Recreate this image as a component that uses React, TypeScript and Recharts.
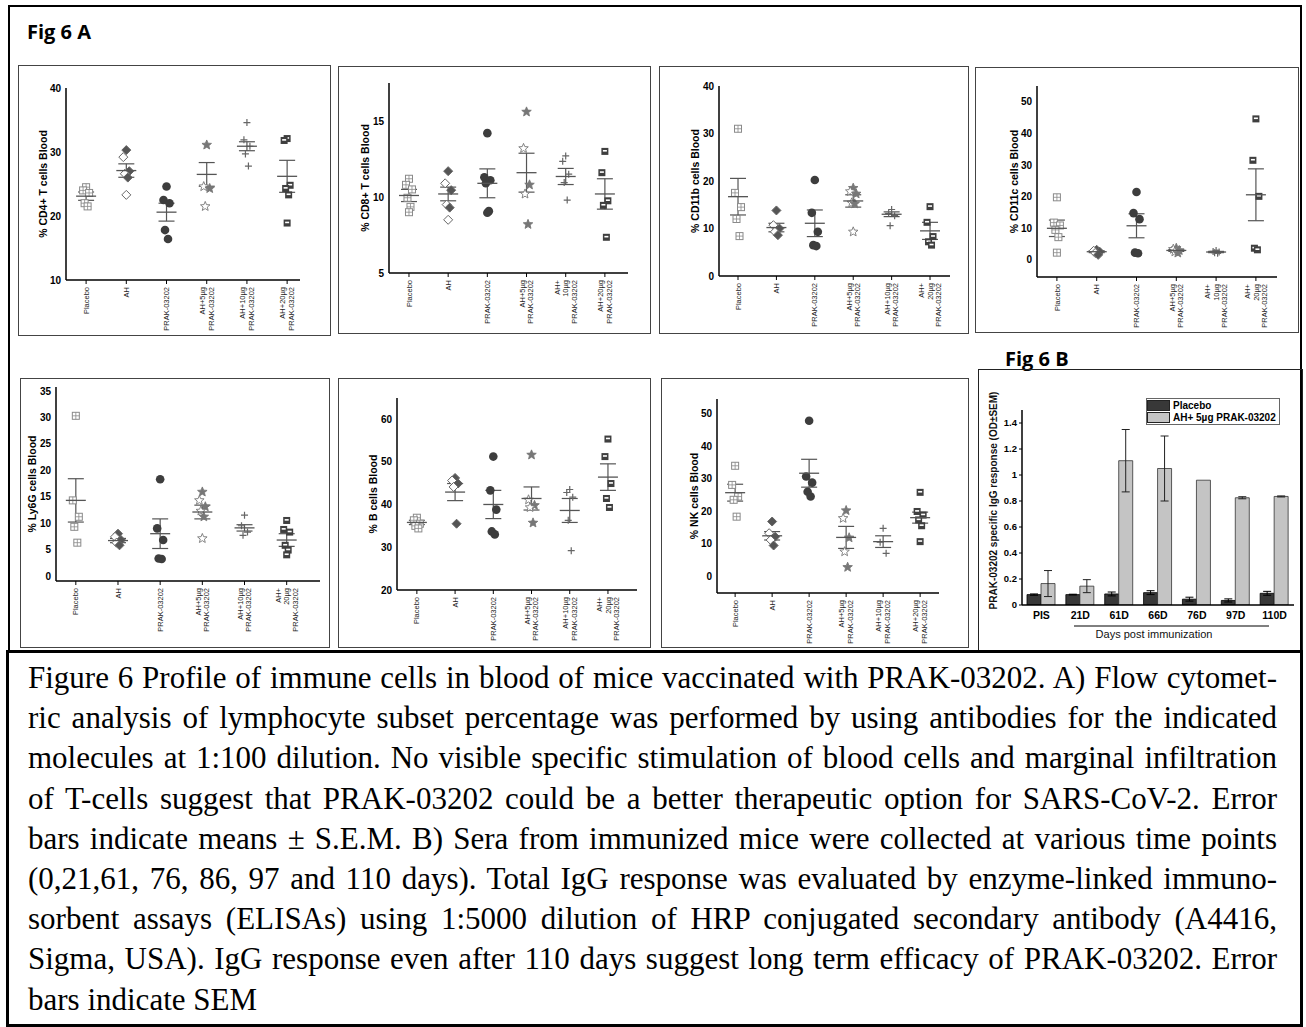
import React from 'react'
import { ScatterChart, Scatter, XAxis, YAxis, ErrorBar, Label, BarChart, Bar } from 'recharts'

// x categories (same order in every dot plot)
const groups = ['Placebo', 'AH', 'PRAK-03202', 'AH+5µg', 'AH+10µg', 'AH+20µg']

// tick labels as they are broken under each panel
const cd4Cats = [['Placebo'], ['AH'], ['PRAK-03202'], ['AH+5µg', 'PRAK-03202'], ['AH+10µg', 'PRAK-03202'], ['AH+20µg', 'PRAK-03202']]
const cd8Cats = [['Placebo'], ['AH'], ['PRAK-03202'], ['AH+5µg', 'PRAK-03202'], ['AH+', '10µg', 'PRAK-03202'], ['AH+20µg', 'PRAK-03202']]
const cd11bCats = [['Placebo'], ['AH'], ['PRAK-03202'], ['AH+5µg', 'PRAK-03202'], ['AH+10µg', 'PRAK-03202'], ['AH+', '20µg', 'PRAK-03202']]
const cd11cCats = [['Placebo'], ['AH'], ['PRAK-03202'], ['AH+5µg', 'PRAK-03202'], ['AH+', '10µg', 'PRAK-03202'], ['AH+', '20µg', 'PRAK-03202']]
const ly6gCats = cd11bCats
const bCats = cd11bCats
const nkCats = cd4Cats

// per-mouse values, one list per group
const cd4Points = [
  [24.5, 24.0, 23.6, 22.0, 21.5],
  [30.3, 29.2, 27.0, 26.6, 26.0, 23.3],
  [24.6, 22.5, 22.0, 17.8, 16.4],
  [31.1, 24.6, 24.3, 21.5],
  [34.6, 31.9, 30.9, 29.7, 27.8],
  [32.1, 31.8, 24.8, 24.3, 23.3, 18.9],
]
const cd4Means = [23.1, 27.1, 20.6, 26.5, 30.9, 26.2]
const cd4Sems = [0.65, 1.05, 1.4, 1.85, 0.7, 2.5]

const cd8Points = [
  [11.2, 10.8, 10.5, 9.95, 9.35, 9.0],
  [11.7, 10.9, 10.45, 9.5, 9.3, 8.5],
  [14.2, 11.3, 11.1, 10.9, 9.07, 8.96],
  [15.6, 13.2, 10.8, 10.2, 8.2],
  [12.7, 12.35, 11.5, 10.95, 9.8],
  [13.0, 11.6, 9.75, 9.45, 7.35],
]
const cd8Means = [10.1, 10.2, 10.9, 11.6, 11.35, 10.2]
const cd8Sems = [0.4, 0.45, 0.95, 1.28, 0.53, 1.0]

const cd11bPoints = [
  [31.0, 17.5, 14.5, 12.0, 8.4],
  [13.8, 10.7, 10.0, 9.3, 8.6],
  [20.2, 13.3, 9.3, 6.5, 6.3],
  [18.5, 17.8, 17.3, 15.4, 15.2, 9.3],
  [14.0, 13.2, 12.7, 10.6],
  [14.6, 11.3, 8.3, 7.2, 6.5],
]
const cd11bMeans = [16.7, 10.2, 11.1, 15.8, 13.0, 9.5]
const cd11bSems = [3.85, 0.9, 2.8, 1.3, 0.5, 1.8]

const cd11cPoints = [
  [19.8, 11.8, 10.9, 9.5, 7.2, 2.3],
  [3.2, 2.9, 2.6, 2.2, 1.6],
  [21.5, 14.8, 12.9, 2.3, 2.1],
  [3.7, 3.4, 3.0, 2.6, 2.2],
  [3.0, 2.7, 2.5, 2.3, 2.1],
  [44.6, 31.5, 20.1, 3.7, 3.2],
]
const cd11cMeans = [10.0, 2.6, 10.8, 3.0, 2.5, 20.6]
const cd11cSems = [2.6, 0.3, 3.8, 0.3, 0.2, 8.2]

const ly6gPoints = [
  [30.3, 14.3, 11.2, 9.3, 6.3],
  [8.0, 7.4, 6.8, 6.3, 5.8],
  [18.3, 9.0, 6.8, 3.3, 3.2],
  [15.9, 14.3, 13.1, 12.3, 11.2, 7.1],
  [11.5, 9.5, 8.3, 7.7],
  [10.5, 8.8, 8.3, 5.8, 4.9, 4.0],
]
const ly6gMeans = [14.3, 6.7, 8.0, 12.1, 9.1, 6.8]
const ly6gSems = [4.1, 0.4, 2.8, 1.3, 0.6, 1.2]

const bPoints = [
  [36.9, 36.3, 35.5, 35.0, 34.4],
  [46.2, 45.6, 44.9, 44.1, 35.5],
  [51.2, 43.3, 38.8, 33.7, 33.0],
  [51.6, 41.1, 39.8, 39.3, 35.7],
  [43.5, 42.8, 41.7, 36.3, 29.2],
  [55.3, 51.2, 44.9, 41.4, 39.3],
]
const bMeans = [35.8, 42.9, 40.0, 41.4, 38.6, 46.4]
const bSems = [0.5, 2.0, 3.3, 2.7, 2.8, 3.1]

const nkPoints = [
  [34.0, 28.1, 24.5, 23.5, 18.3],
  [16.8, 13.2, 12.1, 11.1, 9.4],
  [47.9, 30.7, 28.8, 26.0, 24.5],
  [20.2, 17.8, 11.8, 7.5, 2.7],
  [14.7, 10.4, 7.0],
  [25.8, 19.9, 18.8, 17.3, 15.5, 10.6],
]
const nkMeans = [25.7, 12.4, 31.7, 11.9, 10.6, 18.0]
const nkSems = [2.6, 1.3, 4.3, 3.4, 1.8, 1.7]

// Fig 6 B
const days = ['PIS', '21D', '61D', '66D', '76D', '97D', '110D']
const placeboOD = [0.08, 0.08, 0.085, 0.095, 0.045, 0.035, 0.09]
const placeboSem = [0.005, 0.003, 0.015, 0.015, 0.015, 0.012, 0.015]
const ahOD = [0.165, 0.145, 1.11, 1.05, 0.96, 0.825, 0.835]
const ahSem = [0.1, 0.05, 0.24, 0.25, 0, 0.008, 0.004]

const captionLines = [
  'Figure 6 Profile of immune cells in blood of mice vaccinated with PRAK-03202. A) Flow cytomet-',
  'ric analysis of lymphocyte subset percentage was performed by using antibodies for the indicated',
  'molecules at 1:100 dilution. No visible specific stimulation of blood cells and marginal infiltration',
  'of T-cells suggest that PRAK-03202 could be a better therapeutic option for SARS-CoV-2. Error',
  'bars indicate means ± S.E.M. B) Sera from immunized mice were collected at various time points',
  '(0,21,61, 76, 86, 97 and 110 days). Total IgG response was evaluated by enzyme-linked immuno-',
  'sorbent assays (ELISAs) using 1:5000 dilution of HRP conjugated secondary antibody (A4416,',
  'Sigma, USA). IgG response even after 110 days suggest long term efficacy of PRAK-03202. Error',
  'bars indicate SEM',
]

const SANS = 'Liberation Sans, Arial, sans-serif'

type Panel = {
  left: number; top: number; right: number; bottom: number
  plotLeft: number; plotTop: number; plotRight: number; plotBottom: number
  xDomain: number[]; yDomain: number[]; yTicks: number[]
  labelX: number; yLabel: string
  cats: string[][]; points: number[][]; means: number[]; sems: number[]
}

const panels: Panel[] = [
  { left: 18, top: 65, right: 331, bottom: 336, plotLeft: 66, plotTop: 88, plotRight: 300, plotBottom: 280,
    xDomain: [-0.5, 5.32], yDomain: [10, 40], yTicks: [10, 20, 30, 40], labelX: 43, yLabel: '% CD4+ T cells Blood',
    cats: cd4Cats, points: cd4Points, means: cd4Means, sems: cd4Sems },
  { left: 338, top: 66, right: 651, bottom: 334, plotLeft: 389, plotTop: 83, plotRight: 628, plotBottom: 273,
    xDomain: [-0.51, 5.59], yDomain: [5, 17.5], yTicks: [5, 10, 15], labelX: 365, yLabel: '% CD8+ T cells Blood',
    cats: cd8Cats, points: cd8Points, means: cd8Means, sems: cd8Sems },
  { left: 659, top: 66, right: 969, bottom: 334, plotLeft: 719, plotTop: 86, plotRight: 950, plotBottom: 276,
    xDomain: [-0.495, 5.52], yDomain: [0, 40], yTicks: [0, 10, 20, 30, 40], labelX: 695, yLabel: '% CD11b cells Blood',
    cats: cd11bCats, points: cd11bPoints, means: cd11bMeans, sems: cd11bSems },
  { left: 975, top: 67, right: 1299, bottom: 333, plotLeft: 1037, plotTop: 86, plotRight: 1277, plotBottom: 277,
    xDomain: [-0.5, 5.53], yDomain: [-5.4, 55], yTicks: [0, 10, 20, 30, 40, 50], labelX: 1014, yLabel: '% CD11c cells Blood',
    cats: cd11cCats, points: cd11cPoints, means: cd11cMeans, sems: cd11cSems },
  { left: 20, top: 378, right: 330, bottom: 648, plotLeft: 56, plotTop: 387, plotRight: 320, plotBottom: 581,
    xDomain: [-0.47, 5.79], yDomain: [-0.95, 35.75], yTicks: [0, 5, 10, 15, 20, 25, 30, 35], labelX: 32, yLabel: '% Ly6G cells Blood',
    cats: ly6gCats, points: ly6gPoints, means: ly6gMeans, sems: ly6gSems },
  { left: 338, top: 378, right: 651, bottom: 648, plotLeft: 397, plotTop: 398, plotRight: 637, plotBottom: 590,
    xDomain: [-0.52, 5.76], yDomain: [20, 64.9], yTicks: [20, 30, 40, 50, 60], labelX: 373, yLabel: '% B cells Blood',
    cats: bCats, points: bPoints, means: bMeans, sems: bSems },
  { left: 661, top: 378, right: 969, bottom: 648, plotLeft: 717, plotTop: 399, plotRight: 939, plotBottom: 593,
    xDomain: [-0.49, 5.51], yDomain: [-5.25, 54.6], yTicks: [0, 10, 20, 30, 40, 50], labelX: 694, yLabel: '% NK cells Blood',
    cats: nkCats, points: nkPoints, means: nkMeans, sems: nkSems },
]

// small sideways offsets so overlapping mice stay visible
const jitter = [0, -3, 3, -1.5, 1.5, 0]

function starPath(x: number, y: number, R: number, r: number) {
  let d = ''
  for (let i = 0; i < 10; i++) {
    const a = -Math.PI / 2 + (i * Math.PI) / 5
    const rad = i % 2 === 0 ? R : r
    d += (i === 0 ? 'M' : 'L') + (x + rad * Math.cos(a)).toFixed(2) + ',' + (y + rad * Math.sin(a)).toFixed(2)
  }
  return d + 'Z'
}

function drawMarker(kind: number, cx: number, cy: number, k: number) {
  if (cx == null || cy == null) return <g />
  const x = cx + jitter[k % jitter.length]
  switch (kind) {
    case 0:
      return (
        <g>
          <rect x={x - 3.5} y={cy - 3.5} width={7} height={7} fill="#fff" stroke="#8a8a8a" strokeWidth={1} />
          <path d={`M${x - 3.5},${cy}H${x + 3.5}M${x},${cy - 3.5}V${cy + 3.5}`} stroke="#8a8a8a" strokeWidth={0.8} />
        </g>
      )
    case 1: {
      const r = 4.5
      const filled = k % 2 === 0
      return (
        <polygon points={`${x},${cy - r} ${x + r},${cy} ${x},${cy + r} ${x - r},${cy}`}
          fill={filled ? '#555' : '#fff'} stroke="#666" strokeWidth={1} />
      )
    }
    case 2:
      return <circle cx={x} cy={cy} r={4.3} fill="#3d3d3d" />
    case 3:
      return <path d={starPath(x, cy, 5, 2.2)} fill={k % 2 === 0 ? '#777' : '#fff'} stroke="#777" strokeWidth={0.9} />
    case 4:
      return <path d={`M${x - 3.5},${cy}H${x + 3.5}M${x},${cy - 3.5}V${cy + 3.5}`} stroke="#666" strokeWidth={1.2} />
    default:
      return (
        <g>
          <rect x={x - 3.5} y={cy - 3.5} width={7} height={7} fill="#3f3f3f" />
          <rect x={x - 2} y={cy - 1.4} width={4} height={1.6} fill="#fff" />
        </g>
      )
  }
}

const MeanLine = (p: any) =>
  p.cx == null ? <g /> : <line x1={p.cx - 10} x2={p.cx + 10} y1={p.cy} y2={p.cy} stroke="#555" strokeWidth={1.3} />

const CatTick = (props: any) => {
  const { x, y, payload, labels } = props
  const lines: string[] = labels[payload.value] ?? []
  const lh = 8.5
  return (
    <g transform={`translate(${x},${y + 1})`}>
      {lines.map((t, i) => (
        <text key={i} transform="rotate(-90)" x={0} y={(i - (lines.length - 1) / 2) * lh + 2.6}
          textAnchor="end" fontSize={7.5} fontFamily={SANS} fill="#222">{t}</text>
      ))}
    </g>
  )
}

function DotPanel({ cfg }: { cfg: Panel }) {
  const w = cfg.right - cfg.left
  const h = cfg.bottom - cfg.top
  const meanRows = cfg.means.map((m, i) => ({ x: i, y: m, sem: cfg.sems[i] }))
  return (
    <>
      <div style={{ position: 'absolute', left: cfg.left, top: cfg.top }}>
        <ScatterChart width={w} height={h}
          margin={{ top: cfg.plotTop - cfg.top, right: cfg.right - cfg.plotRight, bottom: 0, left: 0 }}>
          <XAxis type="number" dataKey="x" domain={cfg.xDomain} ticks={[0, 1, 2, 3, 4, 5]} interval={0}
            allowDataOverflow height={cfg.bottom - cfg.plotBottom} tickSize={4}
            tickLine={{ stroke: '#000' }} axisLine={{ stroke: '#000', strokeWidth: 1.5 }}
            tick={(p: any) => <CatTick {...p} labels={cfg.cats} />} />
          <YAxis type="number" dataKey="y" domain={cfg.yDomain} ticks={cfg.yTicks} interval={0} allowDataOverflow
            width={cfg.plotLeft - cfg.left} tickLine={false} tickSize={3}
            axisLine={{ stroke: '#000', strokeWidth: 1.5 }}
            tick={{ fontSize: 10, fontWeight: 700, fill: '#000', fontFamily: SANS }}>
            <Label content={(p: any) => {
              const vb = p.viewBox
              const cx = vb.x + cfg.labelX - cfg.left
              const cy = vb.y + vb.height / 2
              return (
                <text x={cx} y={cy} transform={`rotate(-90, ${cx}, ${cy})`} textAnchor="middle"
                  dominantBaseline="central" fontSize={10.5} fontWeight={700} fontFamily={SANS} fill="#000">
                  {cfg.yLabel}
                </text>
              )
            }} />
          </YAxis>
          {cfg.points.map((vals, gi) => (
            <Scatter key={groups[gi]} name={groups[gi]} data={vals.map((v, k) => ({ x: gi, y: v, k }))}
              shape={(p: any) => drawMarker(gi, p.cx, p.cy, p.payload?.k ?? 0)} isAnimationActive={false} />
          ))}
          <Scatter name="mean" data={meanRows} shape={MeanLine} isAnimationActive={false}>
            <ErrorBar dataKey="sem" direction="y" width={8} stroke="#555" strokeWidth={1.2} />
          </Scatter>
        </ScatterChart>
      </div>
      <div style={{ position: 'absolute', left: cfg.left, top: cfg.top, width: w, height: h,
        border: '1.5px solid #444', boxSizing: 'border-box', pointerEvents: 'none' }} />
    </>
  )
}

const igRows = days.map((d, i) => ({ day: d, placebo: placeboOD[i], placeboErr: placeboSem[i], ah: ahOD[i], ahErr: ahSem[i] }))

function IgGPanel() {
  const left = 978, top = 369, w = 325, h = 283
  return (
    <>
      <div style={{ position: 'absolute', left, top }}>
        <BarChart width={w} height={h} data={igRows} margin={{ top: 41, right: 9, bottom: 0, left: 0 }}
          barGap={0} barCategoryGap="28%">
          <XAxis dataKey="day" height={47} tickLine={false} tickSize={4} tickMargin={3} interval={0}
            axisLine={{ stroke: '#000', strokeWidth: 1.5 }}
            tick={{ fontSize: 10.5, fontWeight: 700, fill: '#000', fontFamily: SANS }}>
            <Label content={(p: any) => {
              const vb = p.viewBox
              return (
                <g>
                  <line x1={96} x2={291} y1={vb.y + 21} y2={vb.y + 21} stroke="#000" strokeWidth={1} />
                  <text x={176} y={vb.y + 33} textAnchor="middle" fontSize={11} fontFamily={SANS} fill="#111">
                    Days post immunization
                  </text>
                </g>
              )
            }} />
          </XAxis>
          <YAxis domain={[0, 1.5]} ticks={[0, 0.2, 0.4, 0.6, 0.8, 1, 1.2, 1.4]} interval={0} allowDataOverflow width={44}
            tickSize={3} tickLine={{ stroke: '#000' }} axisLine={{ stroke: '#000', strokeWidth: 1.5 }}
            tick={{ fontSize: 9.5, fontWeight: 700, fill: '#000', fontFamily: SANS }}>
            <Label content={(p: any) => {
              const vb = p.viewBox
              const cx = 15
              const cy = vb.y + vb.height / 2 - 7
              return (
                <text x={cx} y={cy} transform={`rotate(-90, ${cx}, ${cy})`} textAnchor="middle"
                  dominantBaseline="central" fontSize={10} fontWeight={700} fontFamily={SANS} fill="#111">
                  PRAK-03202 specific IgG response (OD±SEM)
                </text>
              )
            }} />
          </YAxis>
          <Bar dataKey="placebo" name="Placebo" fill="#383838" stroke="#000" strokeWidth={0.8} barSize={14} isAnimationActive={false}>
            <ErrorBar dataKey="placeboErr" width={4} stroke="#000" strokeWidth={1} />
          </Bar>
          <Bar dataKey="ah" name="AH+ 5µg PRAK-03202" fill="#c4c4c4" stroke="#333" strokeWidth={0.8} barSize={14} isAnimationActive={false}>
            <ErrorBar dataKey="ahErr" width={4} stroke="#222" strokeWidth={1} />
          </Bar>
        </BarChart>
      </div>
      <div style={{ position: 'absolute', left: 1146, top: 398, width: 134, height: 27, border: '1px solid #666',
        boxSizing: 'border-box', fontFamily: SANS, fontWeight: 700, fontSize: 10, color: '#000' }}>
        {[['#383838', 'Placebo'], ['#c4c4c4', 'AH+ 5µg PRAK-03202']].map(([c, t]) => (
          <div key={t} style={{ display: 'flex', alignItems: 'center', height: 12.5 }}>
            <div style={{ width: 23, height: 11, background: c, border: '1px solid #222', boxSizing: 'border-box', marginRight: 3 }} />
            <span>{t}</span>
          </div>
        ))}
      </div>
      <div style={{ position: 'absolute', left, top, width: w, height: h, borderTop: '1.5px solid #222',
        borderLeft: '1.5px solid #222', borderRight: '1.5px solid #222', boxSizing: 'border-box', pointerEvents: 'none' }} />
    </>
  )
}

export default function App() {
  return (
    <div style={{ position: 'absolute', left: 0, top: 0, width: 1306, height: 1027, background: '#fff', overflow: 'hidden' }}>
      <div style={{ position: 'absolute', left: 8, top: 5, width: 1294, height: 647, border: '2.5px solid #000', boxSizing: 'border-box' }} />
      <div style={{ position: 'absolute', left: 27, top: 22, fontFamily: 'Open Sans, sans-serif', fontWeight: 700, fontSize: 20, lineHeight: '20px' }}>Fig 6 A</div>
      <div style={{ position: 'absolute', left: 1005, top: 349, fontFamily: 'Open Sans, sans-serif', fontWeight: 700, fontSize: 20, lineHeight: '20px' }}>Fig 6 B</div>
      {panels.map((cfg, i) => <DotPanel key={i} cfg={cfg} />)}
      <IgGPanel />
      <div style={{ position: 'absolute', left: 6, top: 650, width: 1297, height: 377, border: '3px solid #000', boxSizing: 'border-box' }} />
      <div style={{ position: 'absolute', left: 28, top: 658, width: 1249, fontFamily: 'Liberation Serif, Times New Roman, serif',
        fontSize: 31, lineHeight: '40.2px', color: '#000' }}>
        {captionLines.map((t, i) => (
          <div key={i} style={{ whiteSpace: 'nowrap', textAlign: 'justify', textAlignLast: i < captionLines.length - 1 ? 'justify' : 'left' }}>{t}</div>
        ))}
      </div>
    </div>
  )
}
